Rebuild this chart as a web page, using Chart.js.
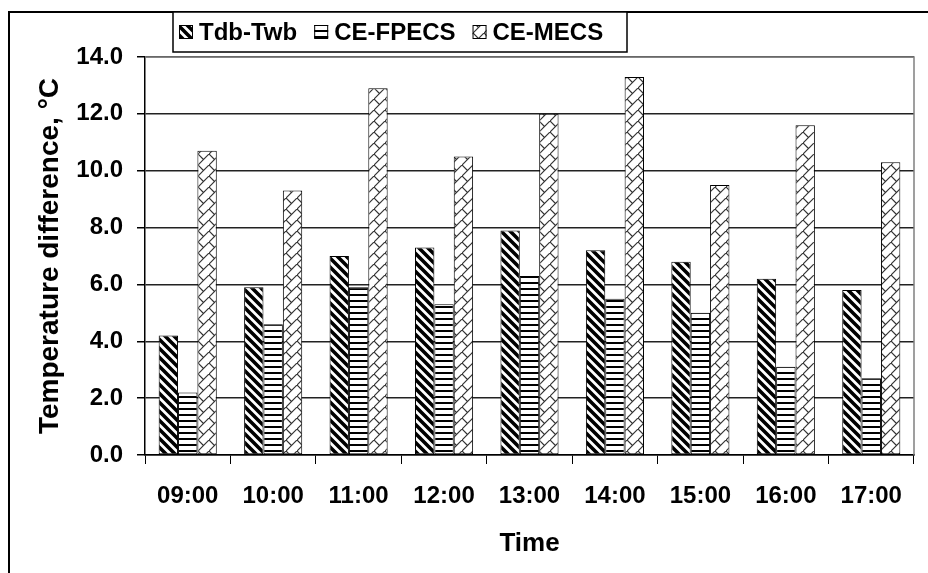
<!DOCTYPE html>
<html>
<head>
<meta charset="utf-8">
<script src="https://cdn.jsdelivr.net/npm/chart.js@4/dist/chart.umd.min.js"></script>
<style>
  html, body { margin: 0; padding: 0; background: #fff; }
  canvas { display: block; }
</style>
</head>
<body>
<canvas id="tempChart" width="928" height="573"></canvas>
<script>
var hours = ['09:00', '10:00', '11:00', '12:00', '13:00', '14:00', '15:00', '16:00', '17:00'];
var seriesNames = ['Tdb-Twb', 'CE-FPECS', 'CE-MECS'];
var tdbTwb = [4.2, 5.9, 7.0, 7.3, 7.9, 7.2, 6.8, 6.2, 5.8];
var cePfecs = [2.2, 4.6, 5.9, 5.3, 6.3, 5.5, 5.0, 3.1, 2.7];
var ceMecs = [10.7, 9.3, 12.9, 10.5, 12.0, 13.3, 9.5, 11.6, 10.3];
var yTicks = [0, 2, 4, 6, 8, 10, 12, 14];

var FONT = '"Liberation Sans", Arial, sans-serif';

function makeTile(size, draw) {
    var c = document.createElement('canvas');
    c.width = size;
    c.height = size;
    var g = c.getContext('2d');
    g.fillStyle = '#fff';
    g.fillRect(0, 0, size, size);
    draw(g, size);
    return document.getElementById('tempChart').getContext('2d').createPattern(c, 'repeat');
}

// thick back-slash stripes
var stripePattern = makeTile(9, function (g, s) {
    g.strokeStyle = '#000';
    g.lineWidth = 3.6;
    g.beginPath();
    g.moveTo(-3, -3); g.lineTo(s + 3, s + 3);
    g.moveTo(-3, s - 3); g.lineTo(3, s + 3);
    g.moveTo(s - 3, -3); g.lineTo(s + 3, 3);
    g.stroke();
});

// horizontal lines
var hLinePattern = makeTile(6, function (g, s) {
    g.fillStyle = '#000';
    g.fillRect(0, 0, s, 2);
});

// diagonal brick
var brickPattern = makeTile(11, function (g, s) {
    g.strokeStyle = '#333';
    g.lineWidth = 1.2;
    g.beginPath();
    g.moveTo(-1, s + 1); g.lineTo(s + 1, -1);
    g.moveTo(0, 0); g.lineTo(s / 2, s / 2);
    g.stroke();
});

var fills = [stripePattern, hLinePattern, brickPattern];

// outer frame, plot border and boxed legend
var decorations = {
    id: 'decorations',
    beforeDraw: function (chart) {
        var ctx = chart.ctx;
        ctx.save();
        ctx.fillStyle = '#fff';
        ctx.fillRect(0, 0, chart.width, chart.height);
        ctx.restore();
    },
    afterDraw: function (chart) {
        var ctx = chart.ctx;
        var a = chart.chartArea;
        ctx.save();

        ctx.strokeStyle = '#808080';
        ctx.lineWidth = 1.5;
        ctx.beginPath();
        ctx.moveTo(a.left, a.top);
        ctx.lineTo(a.right, a.top);
        ctx.lineTo(a.right, a.bottom);
        ctx.stroke();

        ctx.strokeStyle = '#000';
        ctx.lineWidth = 2;
        ctx.beginPath();
        ctx.moveTo(928, 12);
        ctx.lineTo(9, 12);
        ctx.lineTo(9, 573);
        ctx.stroke();

        // legend
        var bx = 173, by = 12, bw = 454, bh = 40;
        ctx.fillStyle = '#fff';
        ctx.fillRect(bx, by, bw, bh);
        ctx.lineWidth = 1.5;
        ctx.strokeRect(bx, by, bw, bh);

        ctx.font = 'bold 24px ' + FONT;
        ctx.textBaseline = 'middle';
        var x = 179;
        var cy = by + bh / 2;
        chart.data.datasets.forEach(function (ds) {
            ctx.fillStyle = ds.backgroundColor;
            ctx.fillRect(x, cy - 7, 14, 14);
            ctx.strokeStyle = '#000';
            ctx.lineWidth = 1;
            ctx.strokeRect(x + 0.5, cy - 6.5, 13, 13);
            ctx.fillStyle = '#000';
            ctx.fillText(ds.label, x + 20, cy + 1);
            x += 20 + ctx.measureText(ds.label).width + 17;
        });
        ctx.restore();
    }
};

var ctx = document.getElementById('tempChart').getContext('2d');
new Chart(ctx, {
    type: 'bar',
    data: {
        labels: hours,
        datasets: [tdbTwb, cePfecs, ceMecs].map(function (vals, i) {
            return {
                label: seriesNames[i],
                data: vals,
                backgroundColor: fills[i],
                borderColor: '#000',
                borderWidth: 1,
                borderSkipped: false,
                categoryPercentage: 0.68,
                barPercentage: 1.0
            };
        })
    },
    options: {
        responsive: false,
        devicePixelRatio: 1,
        animation: false,
        layout: { padding: { left: 0, top: 57, right: 14, bottom: 0 } },
        plugins: {
            legend: { display: false },
            tooltip: { enabled: false }
        },
        scales: {
            x: {
                afterFit: function (s) { s.height = 118; },
                grid: {
                    offset: true,
                    drawOnChartArea: false,
                    color: '#000',
                    tickLength: 9,
                    tickWidth: 1
                },
                border: { color: '#000', width: 1.5 },
                ticks: {
                    color: '#000',
                    padding: 18,
                    maxRotation: 0,
                    font: { family: FONT, size: 24, weight: 'bold' }
                },
                title: {
                    display: true,
                    text: 'Time',
                    color: '#000',
                    padding: { top: 0, bottom: 14 },
                    font: { family: FONT, size: 26, weight: 'bold' }
                }
            },
            y: {
                min: 0,
                max: 14,
                afterFit: function (s) { s.width = 145; },
                afterBuildTicks: function (s) {
                    s.ticks = yTicks.map(function (v) { return { value: v }; });
                },
                grid: {
                    color: '#222',
                    lineWidth: 1.5,
                    tickLength: 8,
                    tickColor: '#000'
                },
                border: { color: '#000', width: 1.5 },
                ticks: {
                    color: '#000',
                    padding: 14,
                    font: { family: FONT, size: 24, weight: 'bold' },
                    callback: function (v) { return v.toFixed(1); }
                },
                title: {
                    display: true,
                    text: 'Temperature difference, °C',
                    color: '#000',
                    padding: { top: 33, bottom: 0 },
                    font: { family: FONT, size: 28, weight: 'bold' }
                }
            }
        }
    },
    plugins: [decorations]
});
</script>
</body>
</html>
